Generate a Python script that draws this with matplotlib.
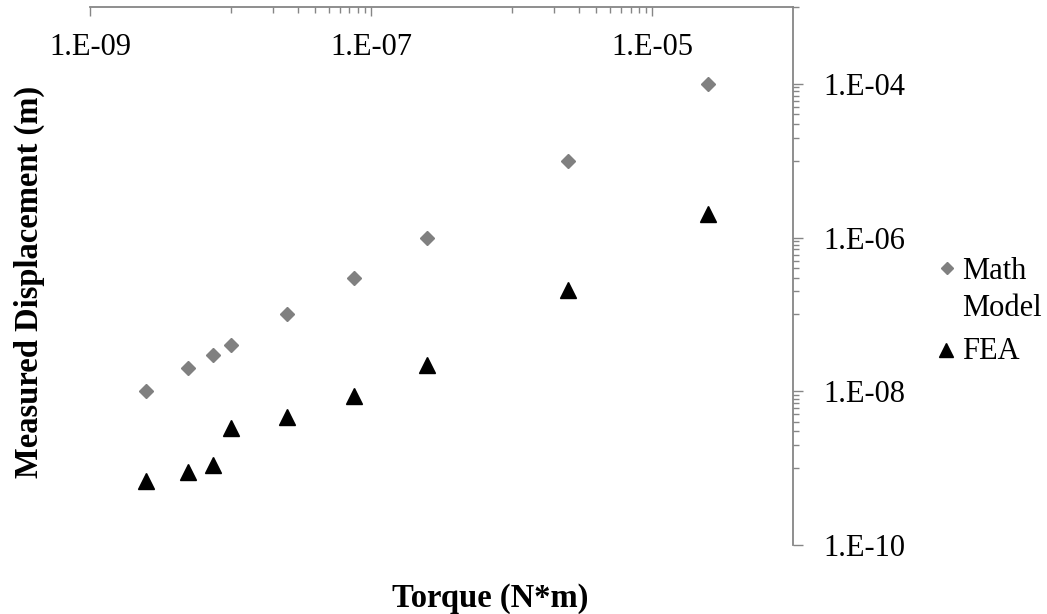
import matplotlib.pyplot as plt
from matplotlib.lines import Line2D
from matplotlib.ticker import FixedLocator, NullFormatter

plt.rcParams['font.family'] = ['Liberation Serif', 'DejaVu Serif']

# Data
torque = [2.5e-9, 5e-9, 7.5e-9, 1e-8, 2.5e-8, 7.5e-8, 2.5e-7, 2.5e-6, 2.5e-5]
math_model = [1e-8, 2e-8, 3e-8, 4e-8, 1e-7, 3e-7, 1e-6, 1e-5, 1e-4]
fea = [6.8e-10, 8.9e-10, 1.1e-9, 3.3e-9, 4.6e-9, 8.6e-9, 2.2e-8, 2.05e-7, 2.0e-6]

x_major = [1e-9, 1e-7, 1e-5]
x_labels = ['1.E-09', '1.E-07', '1.E-05']
y_major = [1e-10, 1e-8, 1e-6, 1e-4]
y_labels = ['1.E-10', '1.E-08', '1.E-06', '1.E-04']

AXIS_GRAY = '#868686'
DIAMOND_GRAY = '#808080'
W, H = 1047, 614

fig = plt.figure(figsize=(W / 100, H / 100), dpi=100)
ax = fig.add_axes([90 / W, 1 - 545 / H, (793 - 90) / W, (545 - 7) / H])

ax.plot(torque, math_model, linestyle='none', marker='D', ms=7.5,
        color=DIAMOND_GRAY)
ax.plot(torque, fea, linestyle='none', marker='^', ms=11, color='black')

ax.set_xscale('log')
ax.set_yscale('log')
ax.set_xlim(1e-9, 1e-4)
ax.set_ylim(1e-10, 1e-3)

# Excel-style minor ticks: n * 10^k between each pair of majors
x_minor = [n * 1e-8 for n in range(1, 10)] + [n * 1e-6 for n in range(1, 10)]
y_minor = ([n * 1e-9 for n in range(1, 10)] + [n * 1e-7 for n in range(1, 10)]
           + [n * 1e-5 for n in range(1, 10)] + [1e-3])

ax.xaxis.set_major_locator(FixedLocator(x_major))
ax.xaxis.set_minor_locator(FixedLocator(x_minor))
ax.xaxis.set_minor_formatter(NullFormatter())
ax.set_xticks(x_major, x_labels)
ax.yaxis.set_major_locator(FixedLocator(y_major))
ax.yaxis.set_minor_locator(FixedLocator(y_minor))
ax.yaxis.set_minor_formatter(NullFormatter())
ax.set_yticks(y_major, y_labels)

for side in ['left', 'bottom']:
    ax.spines[side].set_visible(False)
for side in ['top', 'right']:
    ax.spines[side].set_color(AXIS_GRAY)
    ax.spines[side].set_linewidth(1.3)

ax.tick_params(axis='x', which='both', top=True, bottom=False,
               labeltop=True, labelbottom=False, direction='in',
               color=AXIS_GRAY, width=1.0, labelsize=22, pad=-39.5)
ax.tick_params(axis='x', which='major', length=6.5)
ax.tick_params(axis='x', which='minor', length=4.5)
ax.tick_params(axis='y', which='both', right=True, left=False,
               labelright=True, labelleft=False, direction='out',
               color=AXIS_GRAY, width=1.0, labelsize=22, pad=15)
ax.tick_params(axis='y', which='major', length=7)
ax.tick_params(axis='y', which='minor', length=4.5)

# axis titles, centred on the plot area including tick labels (Excel)
fig.text(490 / W, 1 - 598 / H, 'Torque (N*m)', ha='center', va='center',
         fontsize=23.5, fontweight='bold')
fig.text(29 / W, 1 - 282 / H, 'Measured Displacement (m)', ha='center',
         va='center', rotation=90, fontsize=23.5, fontweight='bold')

# legend, Excel style: marker next to the first line of each label
fig.add_artist(Line2D([947 / W], [1 - 268 / H], marker='D', ms=6.5,
                      color=DIAMOND_GRAY, transform=fig.transFigure))
fig.add_artist(Line2D([946 / W], [1 - 350 / H], marker='^', ms=9.5,
                      color='black', transform=fig.transFigure))
fig.text(962 / W, 1 - 279 / H, 'Math', fontsize=22, va='baseline')
fig.text(962 / W, 1 - 316 / H, 'Model', fontsize=22, va='baseline')
fig.text(962 / W, 1 - 359 / H, 'FEA', fontsize=22, va='baseline')

fig.savefig('out.png', dpi=100)
